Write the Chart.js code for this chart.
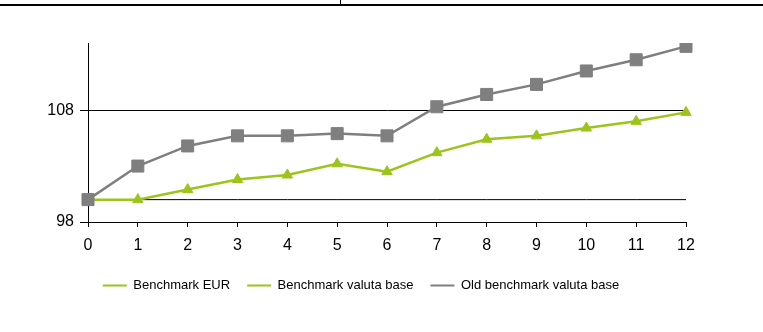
<!DOCTYPE html>
<html lang="en">
<head>
    <meta charset="UTF-8">
    <title>Benchmark chart</title>
    <script src="https://cdn.jsdelivr.net/npm/chart.js"></script>
    <style>
        body { margin: 0; background: #fff; }
        #topline { position: absolute; left: 0; top: 4px; width: 763px; height: 2px; background: #000; }
        #topmark { position: absolute; left: 340px; top: 0; width: 1px; height: 5px; background: #000; }
        canvas { position: absolute; left: 0; top: 0; }
    </style>
</head>
<body>
    <canvas id="benchChart" width="763" height="332"></canvas>
    <div id="topline"></div>
    <div id="topmark"></div>

    <script>
        // data
        const periods = ['0', '1', '2', '3', '4', '5', '6', '7', '8', '9', '10', '11', '12'];
        const eurValues = [100, 100, 100, 100, 100, 100, 100, 100, 100, 100, 100, 100, 100];
        const valutaValues = [100, 100, 100.9, 101.8, 102.2, 103.2, 102.5, 104.2, 105.4, 105.7, 106.4, 107.0, 107.8];
        const oldValutaValues = [100, 103, 104.8, 105.7, 105.7, 105.9, 105.7, 108.3, 109.4, 110.3, 111.5, 112.5, 113.7];
        const yTicks = [98, 108];

        const green = '#9cc41a';
        const grey = '#7f7f7f';
        const font = "'Liberation Sans', Arial, sans-serif";

        // legend is centred under the whole picture, not under the chart box
        const shiftLegend = {
            id: 'shiftLegend',
            afterLayout(chart) {
                chart.legend.left += 18;
                chart.legend.right += 18;
            }
        };

        const ctx = document.getElementById('benchChart').getContext('2d');
        new Chart(ctx, {
            type: 'line',
            data: {
                labels: periods,
                datasets: [{
                    label: 'Benchmark EUR',
                    data: eurValues,
                    borderColor: '#000',
                    borderWidth: 1,
                    pointRadius: 0,
                    legendColor: green,
                    order: 3
                }, {
                    label: 'Benchmark valuta base',
                    data: valutaValues,
                    borderColor: green,
                    backgroundColor: green,
                    borderWidth: 2.5,
                    pointStyle: 'triangle',
                    pointRadius: 6,
                    pointBorderWidth: 1,
                    order: 2
                }, {
                    label: 'Old benchmark valuta base',
                    data: oldValutaValues,
                    borderColor: grey,
                    backgroundColor: grey,
                    borderWidth: 2.5,
                    pointStyle: 'rect',
                    pointRadius: 8.5,
                    pointBorderWidth: 1,
                    order: 1
                }]
            },
            plugins: [shiftLegend],
            options: {
                responsive: false,
                animation: false,
                layout: { padding: { top: 43, right: 77, left: 0, bottom: 30 } },
                plugins: {
                    tooltip: { enabled: false },
                    legend: {
                        position: 'bottom',
                        labels: {
                            font: { family: font, size: 13 },
                            color: '#000',
                            boxWidth: 24,
                            boxHeight: 2,
                            padding: 17,
                            generateLabels(chart) {
                                return chart.data.datasets.map((ds, i) => ({
                                    text: ds.label,
                                    fillStyle: ds.legendColor || ds.borderColor,
                                    strokeStyle: ds.legendColor || ds.borderColor,
                                    lineWidth: 0,
                                    datasetIndex: i
                                }));
                            }
                        }
                    }
                },
                scales: {
                    x: {
                        offset: false,
                        afterFit(axis) { axis.height = 40; },
                        border: { color: '#000', width: 1 },
                        grid: { drawOnChartArea: false, drawTicks: true, tickLength: 5, color: '#000' },
                        ticks: { color: '#000', font: { family: font, size: 16 }, padding: 9, maxRotation: 0 }
                    },
                    y: {
                        min: 98,
                        max: 114,
                        afterBuildTicks(axis) { axis.ticks = yTicks.map(v => ({ value: v })); },
                        afterFit(axis) { axis.width = 88; },
                        border: { color: '#000', width: 1 },
                        grid: { color: '#000', tickLength: 8 },
                        ticks: { color: '#000', font: { family: font, size: 16 }, padding: 6 }
                    }
                }
            }
        });
    </script>
</body>
</html>
